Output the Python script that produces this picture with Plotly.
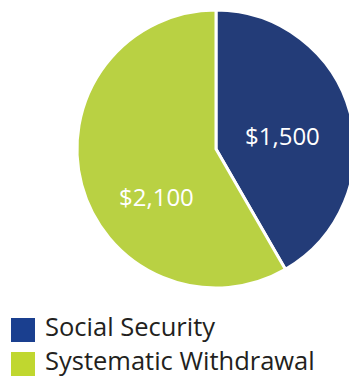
import plotly.graph_objects as go

categories = ["Social Security", "Systematic Withdrawal"]
values = [1500, 2100]
slice_colors = ["#233C78", "#B9D143"]
legend_colors = ["#1A3F8F", "#C0D72F"]

W, H = 357, 379

fig = go.Figure()
fig.add_trace(go.Pie(
    labels=categories, values=values, sort=False, direction="clockwise", rotation=0,
    marker=dict(colors=slice_colors, line=dict(color="white", width=3)),
    textinfo="none",
    domain=dict(x=[77 / W, 355 / W], y=[(H - 288) / H, (H - 10) / H]),
    showlegend=False, hoverinfo="label+value",
))

# value labels (position in pixels from top-left)
label_pos = [(282, 136), (156, 196)]
for v, (px, py) in zip(values, label_pos):
    fig.add_annotation(
        x=px / W, y=1 - py / H, xref="paper", yref="paper",
        text=f"${v:,}", showarrow=False, xanchor="center", yanchor="middle",
        font=dict(color="white", size=24, family="Open Sans"),
    )

# custom legend
leg_y = [330, 364]
fig.add_trace(go.Scatter(
    x=[23] * len(categories), y=leg_y, mode="markers",
    marker=dict(symbol="square", size=24, color=legend_colors, line=dict(width=0)),
    showlegend=False, hoverinfo="skip",
))
fig.add_trace(go.Scatter(
    x=[45] * len(categories), y=leg_y, mode="text", text=categories,
    textposition="middle right",
    textfont=dict(size=25.5, color="#231F20", family="Open Sans"),
    showlegend=False, hoverinfo="skip",
))

fig.update_layout(
    width=W, height=H, margin=dict(l=0, r=0, t=0, b=0),
    paper_bgcolor="white", plot_bgcolor="rgba(0,0,0,0)",
    xaxis=dict(range=[0, W], visible=False, fixedrange=True),
    yaxis=dict(range=[H, 0], visible=False, fixedrange=True),
)

fig.write_html("out.html")
